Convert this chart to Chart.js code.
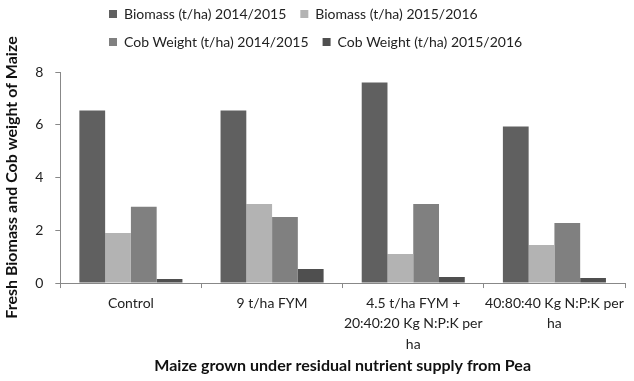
<!DOCTYPE html>
<html>
<head>
<meta charset="utf-8">
<script src="https://cdn.jsdelivr.net/npm/chart.js@4/dist/chart.umd.min.js"></script>
<style>
html,body{margin:0;padding:0;background:#fff;}
#wrap{width:634px;height:381px;position:relative;}
</style>
</head>
<body>
<div id="wrap"><canvas id="c" width="634" height="381"></canvas></div>
<script>
const categories = [
  "Control",
  "9 t/ha FYM",
  ["4.5 t/ha FYM +", "20:40:20 Kg N:P:K per", "ha"],
  ["40:80:40 Kg N:P:K per", "ha"]
];
const seriesNames = [
  "Biomass (t/ha) 2014/2015",
  "Biomass (t/ha) 2015/2016",
  "Cob Weight (t/ha) 2014/2015",
  "Cob Weight (t/ha) 2015/2016"
];
const biomass1415 = [6.54, 6.54, 7.6, 5.93];
const biomass1516 = [1.9, 3.0, 1.1, 1.44];
const cob1415 = [2.89, 2.5, 3.0, 2.28];
const cob1516 = [0.15, 0.53, 0.23, 0.19];
const yTicks = [0, 2, 4, 6, 8];
const xTitle = "Maize grown under residual nutrient supply from Pea";
const yTitle = "Fresh Biomass and Cob weight of Maize";

const colors = ["#606060", "#b3b3b3", "#808080", "#4f4f4f"];
const FONT = "Lato, 'Liberation Sans', sans-serif";

const legendRows = {
  id: 'legendRows',
  afterInit(chart) {
    const lg = chart.legend;
    if (!lg) return;
    const orig = lg._fitRows;
    lg._fitRows = function(...args) {
      const mw = this.maxWidth;
      this.maxWidth = 500;
      const r = orig.apply(this, args);
      this.maxWidth = mw;
      if (this.lineWidths) this.lineWidths = this.lineWidths.map(() => 421);
      return r + 13;
    };
  }
};

new Chart(document.getElementById('c'), {
  type: 'bar',
  data: {
    labels: categories,
    datasets: [biomass1415, biomass1516, cob1415, cob1516].map((d, i) => ({
      label: seriesNames[i],
      data: d,
      backgroundColor: colors[i],
      borderWidth: 0,
      categoryPercentage: 0.73,
      barPercentage: 1.0
    }))
  },
  options: {
    responsive: false,
    animation: false,
    layout: { padding: { top: -7, right: 9, left: 0, bottom: 0 } },
    plugins: {
      legend: {
        position: 'top',
        labels: {
          boxWidth: 8, boxHeight: 8, padding: 14,
          color: '#222',
          font: { family: FONT, size: 14 }
        }
      },
      tooltip: { enabled: false }
    },
    scales: {
      x: {
        grid: { offset: true, drawOnChartArea: false, tickLength: 5, color: '#888' },
        border: { color: '#888', width: 1 },
        ticks: { color: '#222', font: { family: FONT, size: 14, lineHeight: 1.47 }, padding: 5, maxRotation: 0, autoSkip: false },
        title: { display: true, text: xTitle, color: '#111',
          font: { family: FONT, size: 16, weight: 'bold' }, padding: { top: -3.5, bottom: 5.5 } }
      },
      y: {
        min: 0, max: 8,
        afterBuildTicks(scale) { scale.ticks = yTicks.map(v => ({ value: v })); },
        grid: { drawOnChartArea: false, tickLength: 5, color: '#888' },
        border: { color: '#888', width: 1 },
        ticks: { color: '#222', font: { family: FONT, size: 14 }, padding: 12 },
        title: { display: true, text: yTitle, color: '#111',
          font: { family: FONT, size: 16, weight: 'bold' }, padding: { top: 2, bottom: 2 } }
      }
    }
  },
  plugins: [legendRows]
});
</script>
</body>
</html>
